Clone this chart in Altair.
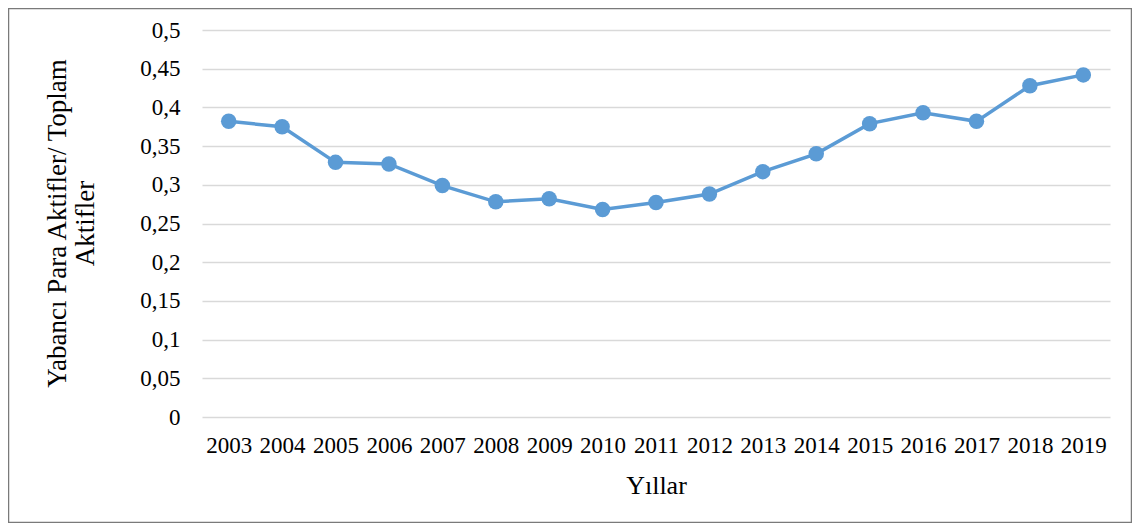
import altair as alt
import pandas as pd

years = ["2003", "2004", "2005", "2006", "2007", "2008", "2009", "2010", "2011",
         "2012", "2013", "2014", "2015", "2016", "2017", "2018", "2019"]
ratios = [0.382, 0.375, 0.329, 0.327, 0.299, 0.278, 0.282, 0.268, 0.277,
          0.288, 0.317, 0.340, 0.379, 0.393, 0.382, 0.428, 0.442]
y_ticks = [0, 0.05, 0.1, 0.15, 0.2, 0.25, 0.3, 0.35, 0.4, 0.45, 0.5]

df = pd.DataFrame({"Yil": years, "Oran": ratios})

FONT = "Liberation Serif"
BLUE = "#5B9BD5"

x_enc = alt.X(
    "Yil:N",
    sort=years,
    scale=alt.Scale(type="point", padding=0.5),
    axis=alt.Axis(
        title="Yıllar",
        titleFont=FONT, titleFontSize=26, titleFontWeight="normal", titleColor="black",
        titleY=68, titleBaseline="middle",
        labelFont=FONT, labelFontSize=23, labelColor="black", labelAngle=0,
        labelBaseline="middle", labelPadding=28,
        ticks=False, tickSize=0, domain=False, grid=False,
    ),
)
y_enc = alt.Y(
    "Oran:Q",
    scale=alt.Scale(domain=[0, 0.5], nice=False, zero=True),
    axis=alt.Axis(
        title=["Yabancı Para Aktifler/ Toplam", "Aktifler"],
        titleFont=FONT, titleFontSize=27, titleFontWeight="normal", titleColor="black",
        titleAngle=-90, titleAlign="center", titleBaseline="middle",
        titleX=-145, titleY=193, titleLineHeight=28,
        values=y_ticks,
        labelExpr="replace(format(datum.value, '~g'), '.', ',')",
        labelFont=FONT, labelFontSize=23, labelColor="black",
        labelBaseline="middle", labelPadding=22,
        ticks=False, tickSize=0, domain=False,
        grid=True, gridColor="#D9D9D9", gridWidth=1.6,
    ),
)

border = alt.Chart(pd.DataFrame({"b": [0]})).mark_rect(
    fill="white", fillOpacity=0, stroke="#7a7a7a", strokeWidth=1.5
).encode(
    x=alt.value(-193.5), x2=alt.value(929.5),
    y=alt.value(-21.5), y2=alt.value(492.5),
)

base = alt.Chart(df).encode(x=x_enc, y=y_enc)
line = base.mark_line(color=BLUE, strokeWidth=3.5)
points = base.mark_circle(color=BLUE, size=240, opacity=1)

chart = alt.layer(border, line, points).properties(
    width=908, height=387,
    autosize=alt.AutoSizeParams(type="none"),
    padding={"left": 194, "top": 22, "right": 22, "bottom": 106},
    background="white",
).configure_view(strokeWidth=0)

chart.save("out.html", embed_options={"renderer": "svg", "actions": False})
